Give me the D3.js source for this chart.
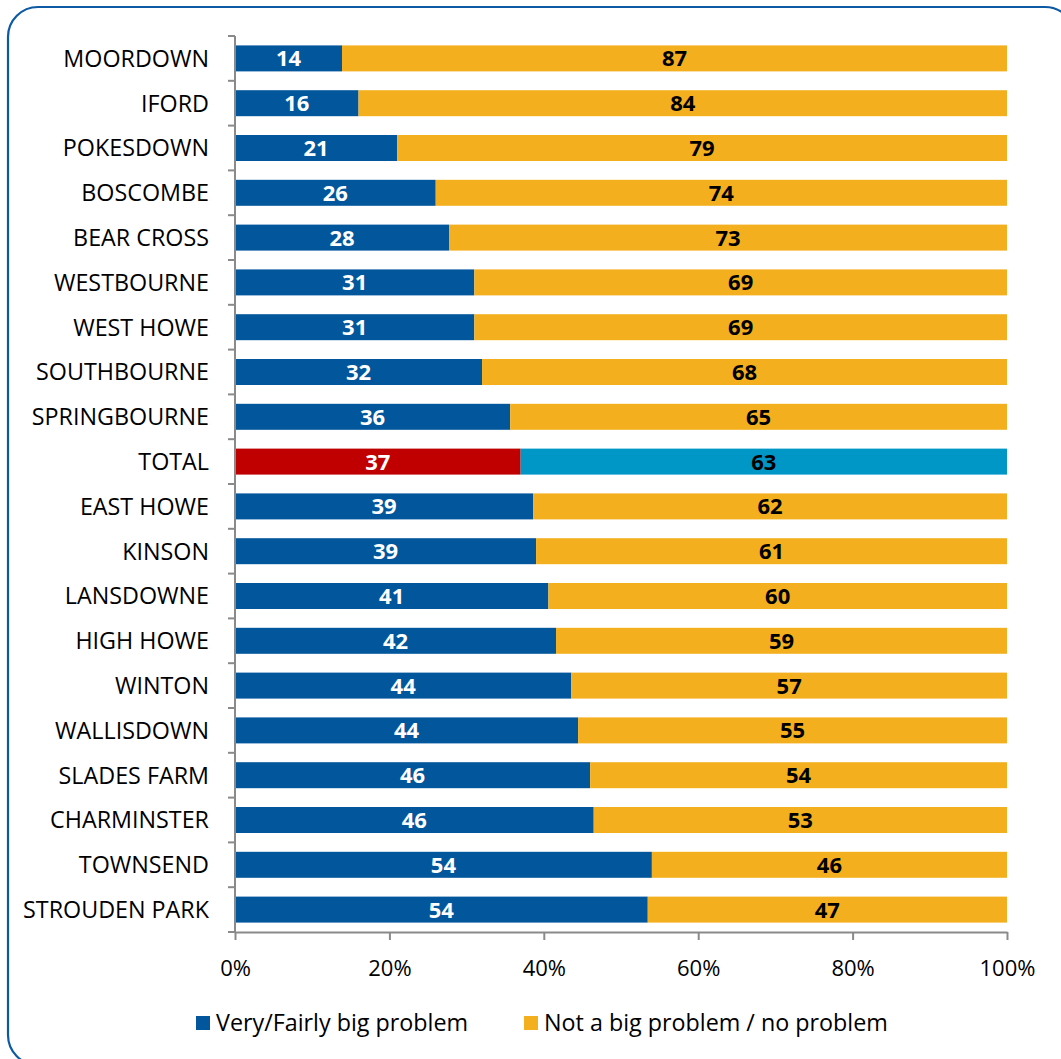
<!DOCTYPE html>
<html>
<head>
<meta charset="utf-8">
<script src="https://cdn.jsdelivr.net/npm/d3@7"></script>
<style>
  html, body { margin: 0; padding: 0; background: #fff; }
  svg { display: block; }
</style>
</head>
<body>
<script>
// Wards, ordered top to bottom
const categories = [
  "MOORDOWN", "IFORD", "POKESDOWN", "BOSCOMBE", "BEAR CROSS", "WESTBOURNE",
  "WEST HOWE", "SOUTHBOURNE", "SPRINGBOURNE", "TOTAL", "EAST HOWE", "KINSON",
  "LANSDOWNE", "HIGH HOWE", "WINTON", "WALLISDOWN", "SLADES FARM",
  "CHARMINSTER", "TOWNSEND", "STROUDEN PARK"
];
// Very/Fairly big problem (%)
const bigProblem = [14, 16, 21, 26, 28, 31, 31, 32, 36, 37, 39, 39, 41, 42, 44, 44, 46, 46, 54, 54];
// Not a big problem / no problem (%)
const notProblem = [87, 84, 79, 74, 73, 69, 69, 68, 65, 63, 62, 61, 60, 59, 57, 55, 54, 53, 46, 47];
const seriesNames = ["Very/Fairly big problem", "Not a big problem / no problem"];
const xTicks = [0, 0.2, 0.4, 0.6, 0.8, 1];
const highlight = "TOTAL";

const W = 1061, H = 1059;
const font = "'Open Sans', 'Noto Sans', sans-serif";
const colBlue = "#02569b", colOrange = "#f3af1d", colRed = "#c00000", colCyan = "#0096c6";

const svg = d3.select("body").append("svg").attr("width", W).attr("height", H);

// rounded frame
svg.append("rect")
  .attr("x", 8).attr("y", 7).attr("width", 1067).attr("height", 1058)
  .attr("rx", 30).attr("ry", 30)
  .attr("fill", "#fff").attr("stroke", "#0b5aa3").attr("stroke-width", 2.2);

const plot = { left: 235, right: 1007, top: 36, bottom: 932 };

const x = d3.scaleLinear().domain([0, 1]).range([plot.left, plot.right]);
const y = d3.scaleBand().domain(categories).range([plot.top, plot.bottom]).paddingInner(0.42).paddingOuter(0.21);

const rows = categories.map((c, i) => {
  const tot = bigProblem[i] + notProblem[i];
  return { cat: c, a: bigProblem[i], b: notProblem[i], f: bigProblem[i] / tot };
});

const g = svg.append("g");

// first segment
g.selectAll("rect.a").data(rows).join("rect")
  .attr("class", "a")
  .attr("x", x(0))
  .attr("y", d => y(d.cat))
  .attr("width", d => x(d.f) - x(0))
  .attr("height", y.bandwidth())
  .attr("fill", d => d.cat === highlight ? colRed : colBlue);

// second segment
g.selectAll("rect.b").data(rows).join("rect")
  .attr("class", "b")
  .attr("x", d => x(d.f))
  .attr("y", d => y(d.cat))
  .attr("width", d => x(1) - x(d.f))
  .attr("height", y.bandwidth())
  .attr("fill", d => d.cat === highlight ? colCyan : colOrange);

// value labels
const labelSize = 22;
g.selectAll("text.la").data(rows).join("text")
  .attr("class", "la")
  .attr("x", d => (x(0) + x(d.f)) / 2)
  .attr("y", d => y(d.cat) + y.bandwidth() / 2)
  .attr("dy", "0.36em")
  .attr("text-anchor", "middle")
  .attr("font-family", font).attr("font-weight", 700).attr("font-size", labelSize)
  .attr("fill", "#fff")
  .text(d => d.a);

g.selectAll("text.lb").data(rows).join("text")
  .attr("class", "lb")
  .attr("x", d => (x(d.f) + x(1)) / 2)
  .attr("y", d => y(d.cat) + y.bandwidth() / 2)
  .attr("dy", "0.36em")
  .attr("text-anchor", "middle")
  .attr("font-family", font).attr("font-weight", 700).attr("font-size", labelSize)
  .attr("fill", "#000")
  .text(d => d.b);

// category axis (ticks between bands)
const axisCol = "#8a8a8a";
const yAxis = svg.append("g");
yAxis.append("line")
  .attr("x1", plot.left).attr("x2", plot.left)
  .attr("y1", plot.top).attr("y2", plot.bottom)
  .attr("stroke", axisCol).attr("stroke-width", 2);
const step = y.step();
const bounds = d3.range(categories.length + 1).map(i => plot.top + i * step);
yAxis.selectAll("line.t").data(bounds).join("line")
  .attr("class", "t")
  .attr("x1", plot.left - 7).attr("x2", plot.left)
  .attr("y1", d => d).attr("y2", d => d)
  .attr("stroke", axisCol).attr("stroke-width", 2);
yAxis.selectAll("text").data(categories).join("text")
  .attr("x", 209)
  .attr("y", d => y(d) + y.bandwidth() / 2)
  .attr("dy", "0.36em")
  .attr("text-anchor", "end")
  .attr("font-family", font).attr("font-size", 23.3)
  .attr("fill", "#000")
  .text(d => d);

// value axis
const xAxis = svg.append("g").attr("transform", `translate(0,${plot.bottom})`)
  .call(d3.axisBottom(x).tickValues(xTicks).tickFormat(d3.format(".0%")).tickSize(8).tickSizeOuter(0));
xAxis.select(".domain").attr("stroke", axisCol).attr("stroke-width", 2);
xAxis.selectAll(".tick line").attr("stroke", axisCol).attr("stroke-width", 2);
xAxis.selectAll(".tick text")
  .attr("font-family", font).attr("font-size", 22).attr("fill", "#000")
  .attr("y", 36).attr("dy", "0.36em");

// legend
const legendItems = [
  { name: seriesNames[0], color: colBlue, x: 196 },
  { name: seriesNames[1], color: colOrange, x: 524 }
];
const lg = svg.append("g");
lg.selectAll("rect").data(legendItems).join("rect")
  .attr("x", d => d.x).attr("y", 1016).attr("width", 14).attr("height", 14)
  .attr("fill", d => d.color);
lg.selectAll("text").data(legendItems).join("text")
  .attr("x", d => d.x + 20).attr("y", 1023).attr("dy", "0.36em")
  .attr("font-family", font).attr("font-size", 23.3).attr("fill", "#000")
  .text(d => d.name);
</script>
</body>
</html>
